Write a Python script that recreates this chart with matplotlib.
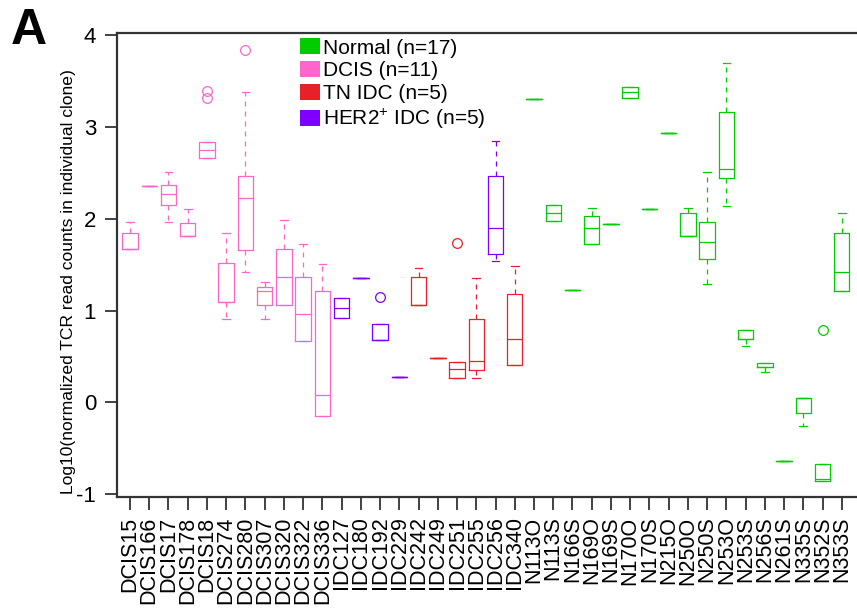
import matplotlib
matplotlib.use('Agg')
import matplotlib.pyplot as plt
from matplotlib.patches import Patch

plt.rcParams['font.family'] = ['Liberation Sans', 'DejaVu Sans']
plt.rcParams['axes.unicode_minus'] = False
plt.rcParams['mathtext.fontset'] = 'custom'
plt.rcParams['mathtext.rm'] = 'Liberation Sans'

# 样本名称与分组
samples = ['DCIS15', 'DCIS166', 'DCIS17', 'DCIS178', 'DCIS18', 'DCIS274', 'DCIS280',
           'DCIS307', 'DCIS320', 'DCIS322', 'DCIS336',
           'IDC127', 'IDC180', 'IDC192', 'IDC229', 'IDC242', 'IDC249', 'IDC251',
           'IDC255', 'IDC256', 'IDC340',
           'N113O', 'N113S', 'N166S', 'N169O', 'N169S', 'N170O', 'N170S', 'N215O',
           'N250O', 'N250S', 'N253O', 'N253S', 'N256S', 'N261S', 'N335S', 'N352S', 'N353S']
groups = ['DCIS'] * 11 + ['HER2', 'HER2', 'HER2', 'HER2', 'TN', 'TN', 'TN', 'TN', 'HER2', 'TN'] + ['Normal'] * 17

# 箱线图统计量
q1 = [1.67, 2.36, 2.151, 1.81, 2.659, 1.092, 1.665, 1.06, 1.06, 0.668, -0.152,
      0.918, 1.36, 0.682, 0.276, 1.066, 0.479, 0.272, 0.356, 1.621, 0.403,
      3.308, 1.974, 1.226, 1.727, 1.941, 3.312, 2.104, 2.938, 1.817, 1.564, 2.442,
      0.696, 0.385, -0.634, -0.112, -0.86, 1.219]
med = [1.67, 2.36, 2.274, 1.81, 2.746, 1.092, 2.224, 1.212, 1.365, 0.968, 0.087,
       1.027, 1.36, 0.682, 0.276, 1.066, 0.479, 0.363, 0.45, 1.901, 0.69,
       3.308, 2.064, 1.226, 1.901, 1.941, 3.378, 2.104, 2.938, 1.817, 1.745, 2.54,
       0.696, 0.385, -0.634, 0.048, -0.83, 1.419]
q3 = [1.85, 2.36, 2.366, 1.959, 2.833, 1.517, 2.467, 1.262, 1.669, 1.365, 1.212,
      1.136, 1.36, 0.856, 0.276, 1.371, 0.479, 0.446, 0.907, 2.464, 1.183,
      3.308, 2.155, 1.226, 2.028, 1.941, 3.438, 2.104, 2.938, 2.061, 1.963, 3.166,
      0.791, 0.435, -0.634, 0.048, -0.67, 1.843]
whis_lo = [1.67, 2.36, 1.97, 1.81, 2.659, 0.914, 1.425, 0.914, 1.06, 0.668, -0.152,
           0.918, 1.36, 0.682, 0.276, 1.066, 0.479, 0.272, 0.272, 1.539, 0.403,
           3.308, 1.974, 1.226, 1.727, 1.941, 3.312, 2.104, 2.938, 1.817, 1.288, 2.144,
           0.614, 0.334, -0.634, -0.257, -0.86, 1.219]
whis_hi = [1.97, 2.36, 2.51, 2.11, 2.833, 1.843, 3.381, 1.31, 1.988, 1.73, 1.513,
           1.136, 1.36, 0.856, 0.276, 1.462, 0.479, 0.446, 1.36, 2.848, 1.487,
           3.308, 2.155, 1.226, 2.122, 1.941, 3.438, 2.104, 2.938, 2.122, 2.514, 3.693,
           0.791, 0.435, -0.634, 0.048, -0.67, 2.064]
outliers = {'DCIS18': [3.395, 3.319], 'DCIS280': [3.838], 'IDC192': [1.153],
            'IDC251': [1.741], 'N352S': [0.791]}

colors = {'Normal': '#00CC00', 'DCIS': '#FF66CC', 'TN': '#E8202A', 'HER2': '#8000FF'}
legend_labels = ['Normal (n=17)', 'DCIS (n=11)', 'TN IDC (n=5)', 'HER2$^{+}$ IDC (n=5)']
legend_keys = ['Normal', 'DCIS', 'TN', 'HER2']

fig = plt.figure(figsize=(8.57, 6.08), dpi=100)
W, H = 857, 608
ax = fig.add_axes([117 / W, 1 - 497 / H, (W - 117) / W, (497 - 33) / H])

for i, name in enumerate(samples):
    c = colors[groups[i]]
    stats = [dict(q1=q1[i], med=med[i], q3=q3[i], whislo=whis_lo[i], whishi=whis_hi[i],
                  fliers=outliers.get(name, []))]
    ax.bxp(stats, positions=[i + 1], widths=0.8, capwidths=0.4,
           boxprops=dict(color=c, lw=0.9),
           medianprops=dict(color=c, lw=0.9),
           whiskerprops=dict(color=c, lw=0.9, linestyle=(0, (4, 4))),
           capprops=dict(color=c, lw=0.9),
           flierprops=dict(marker='o', markerfacecolor='none', markeredgecolor=c,
                           markersize=7, markeredgewidth=0.9))

ax.set_xlim(0.324, 38.79)
ax.set_ylim(-1.029, 4.023)
ax.set_yticks([-1, 0, 1, 2, 3, 4])
ax.set_yticklabels(['-1', '0', '1', '2', '3', '4'], fontsize=16)
ax.set_xticks(range(1, len(samples) + 1))
ax.set_xticklabels(samples, rotation=90, fontsize=15.5, va='top', ha='center')
ax.tick_params(axis='both', length=9, width=1.3, color='#333333')
ax.tick_params(axis='y', pad=6)
ax.tick_params(axis='x', pad=5)
ax.spines['right'].set_visible(False)
for s in ['left', 'top', 'bottom']:
    ax.spines[s].set_linewidth(1.6)
    ax.spines[s].set_color('#333333')

fig.text(69 / W, 1 - 281 / H, 'Log10(normalized TCR read counts in individual clone)',
         rotation=90, ha='center', va='center', fontsize=12.6)
fig.text(11 / W, 1 - 31 / H, 'A', fontsize=36, fontweight='bold', ha='left', va='center')

handles = [Patch(facecolor=colors[k], edgecolor='none') for k in legend_keys]
ax.legend(handles, legend_labels, loc='upper left', bbox_to_anchor=(300 / W, 1 - 38.5 / H),
          bbox_transform=fig.transFigure, frameon=False, fontsize=15,
          handlelength=0.96, handleheight=0.8, handletextpad=0.15,
          labelspacing=0.16, borderpad=0, borderaxespad=0)

fig.savefig('out.png', dpi=100)
